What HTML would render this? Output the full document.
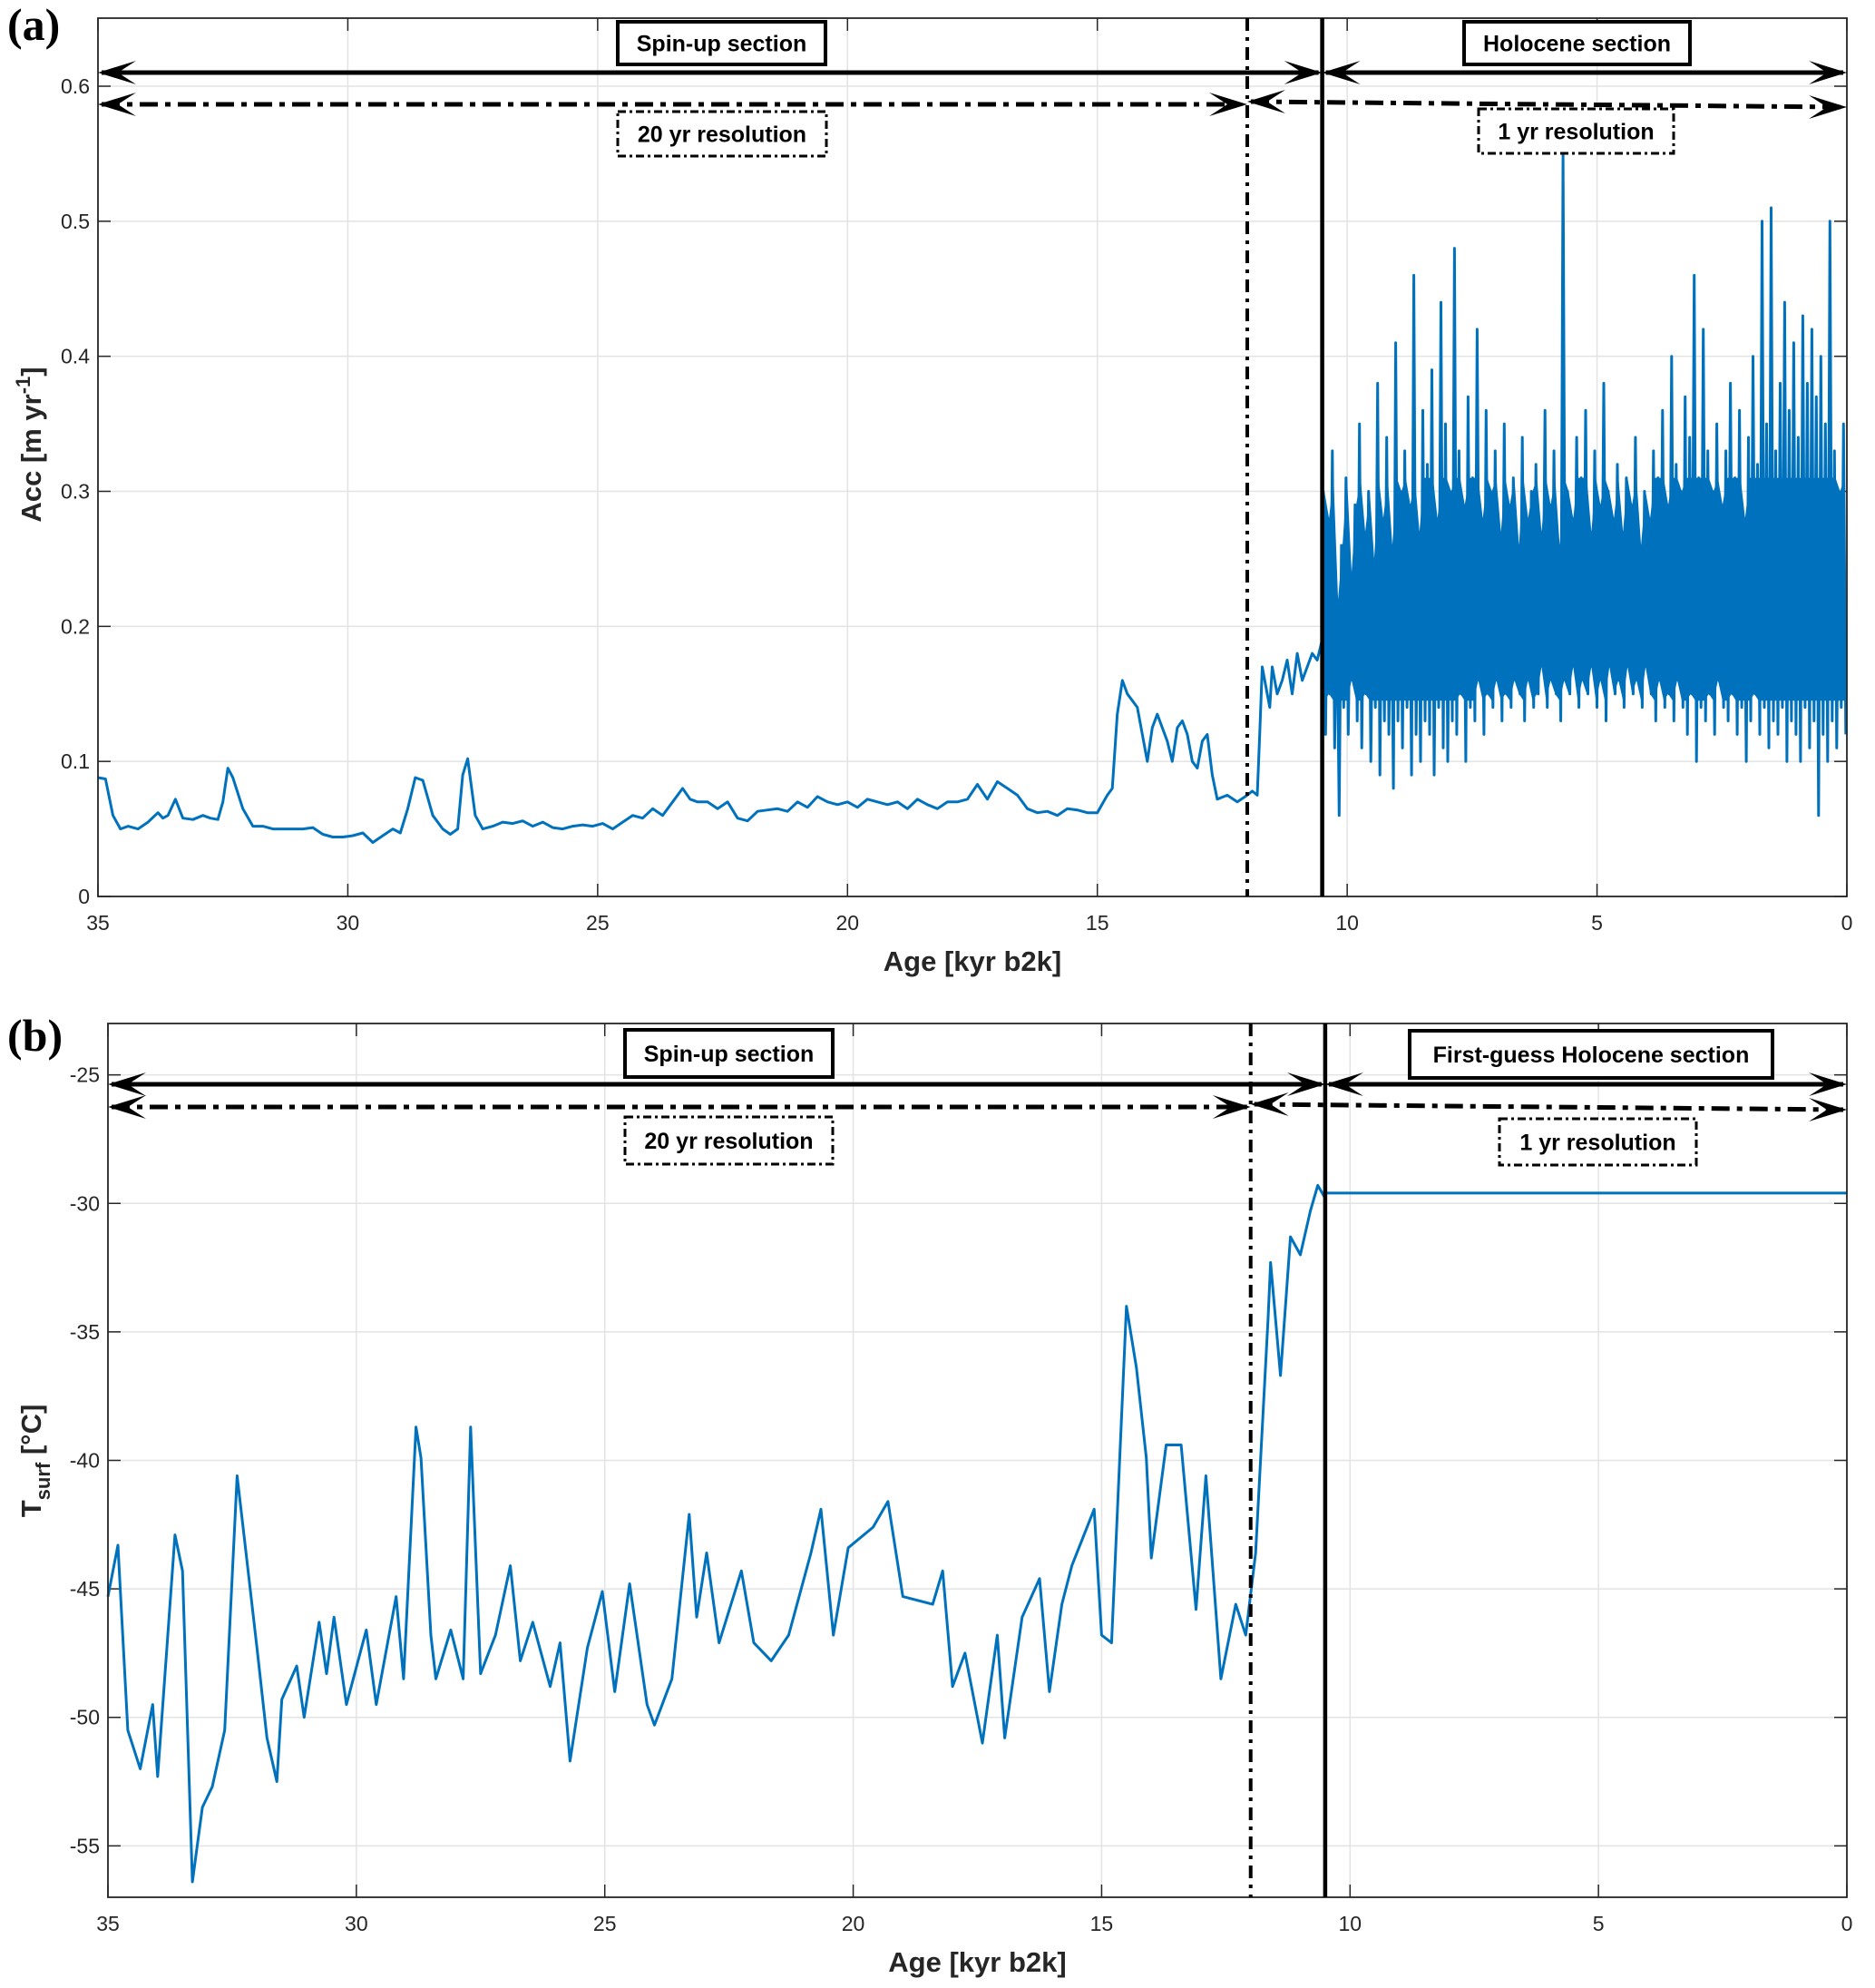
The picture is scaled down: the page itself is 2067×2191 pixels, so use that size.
<!DOCTYPE html>
<html><head><meta charset="utf-8"><style>
body{margin:0;background:#fff}
svg{display:block}
</style></head><body>
<svg id="c" width="2067" height="2191" xmlns="http://www.w3.org/2000/svg" font-family="Liberation Sans, sans-serif"></svg>
<script>
// ---------- DATA ----------
const accAge=[35,34.85,34.7,34.55,34.4,34.2,34.0,33.8,33.7,33.6,33.45,33.3,33.1,32.9,32.75,32.6,32.5,32.4,32.3,32.1,31.9,31.7,31.5,31.3,31.1,30.9,30.7,30.5,30.3,30.1,29.9,29.7,29.5,29.3,29.1,28.95,28.8,28.65,28.5,28.3,28.1,27.95,27.8,27.7,27.6,27.45,27.3,27.1,26.9,26.7,26.5,26.3,26.1,25.9,25.7,25.5,25.3,25.1,24.9,24.7,24.5,24.3,24.1,23.9,23.7,23.5,23.3,23.15,23.0,22.8,22.6,22.4,22.2,22.0,21.8,21.6,21.4,21.2,21.0,20.8,20.6,20.4,20.2,20.0,19.8,19.6,19.4,19.2,19.0,18.8,18.6,18.4,18.2,18.0,17.8,17.6,17.4,17.2,17.0,16.8,16.6,16.4,16.2,16.0,15.8,15.6,15.4,15.2,15.0,14.8,14.7,14.6,14.5,14.4,14.3,14.2,14.1,14.0,13.9,13.8,13.7,13.6,13.5,13.4,13.3,13.2,13.1,13.0,12.9,12.8,12.7,12.6,12.4,12.2,12.0,11.9,11.8,11.75,11.7,11.6,11.55,11.5,11.4,11.3,11.2,11.1,11.0,10.9,10.8,10.7,10.6,10.5];
const accVal=[0.088,0.087,0.06,0.05,0.052,0.05,0.055,0.062,0.058,0.06,0.072,0.058,0.057,0.06,0.058,0.057,0.07,0.095,0.088,0.065,0.052,0.052,0.05,0.05,0.05,0.05,0.051,0.046,0.044,0.044,0.045,0.047,0.04,0.045,0.05,0.047,0.065,0.088,0.086,0.06,0.05,0.046,0.05,0.09,0.102,0.06,0.05,0.052,0.055,0.054,0.056,0.052,0.055,0.051,0.05,0.052,0.053,0.052,0.054,0.05,0.055,0.06,0.058,0.065,0.06,0.07,0.08,0.072,0.07,0.07,0.065,0.07,0.058,0.056,0.063,0.064,0.065,0.063,0.07,0.066,0.074,0.07,0.068,0.07,0.066,0.072,0.07,0.068,0.07,0.065,0.072,0.068,0.065,0.07,0.07,0.072,0.083,0.072,0.085,0.08,0.075,0.065,0.062,0.063,0.06,0.065,0.064,0.062,0.062,0.075,0.08,0.135,0.16,0.15,0.145,0.14,0.12,0.1,0.125,0.135,0.125,0.115,0.1,0.125,0.13,0.12,0.1,0.095,0.115,0.12,0.09,0.072,0.075,0.07,0.075,0.078,0.075,0.12,0.17,0.15,0.14,0.17,0.15,0.16,0.175,0.15,0.18,0.16,0.17,0.18,0.175,0.19,0.2];
const holoHigh=[0.30,0.28,0.33,0.22,0.26,0.31,0.24,0.29,0.35,0.27,0.30,0.25,0.38,0.28,0.34,0.26,0.41,0.30,0.33,0.29,0.46,0.27,0.36,0.32,0.39,0.28,0.44,0.35,0.30,0.48,0.33,0.29,0.37,0.31,0.42,0.28,0.36,0.30,0.33,0.27,0.35,0.29,0.31,0.26,0.34,0.28,0.30,0.32,0.27,0.36,0.29,0.33,0.26,0.55,0.30,0.28,0.34,0.31,0.36,0.27,0.33,0.29,0.38,0.30,0.28,0.32,0.27,0.31,0.29,0.34,0.26,0.30,0.28,0.33,0.31,0.36,0.29,0.40,0.32,0.30,0.37,0.34,0.46,0.31,0.42,0.33,0.30,0.35,0.29,0.33,0.38,0.31,0.36,0.28,0.34,0.40,0.32,0.50,0.35,0.51,0.33,0.38,0.44,0.36,0.41,0.34,0.43,0.38,0.42,0.37,0.40,0.35,0.50,0.33,0.30,0.35];
const holoLow=[0.12,0.15,0.11,0.06,0.14,0.12,0.16,0.13,0.11,0.15,0.10,0.14,0.09,0.13,0.12,0.08,0.13,0.11,0.14,0.09,0.12,0.10,0.13,0.12,0.09,0.14,0.11,0.10,0.13,0.12,0.15,0.10,0.14,0.13,0.16,0.12,0.15,0.14,0.16,0.13,0.15,0.14,0.16,0.15,0.13,0.16,0.14,0.15,0.17,0.14,0.16,0.15,0.13,0.16,0.15,0.17,0.14,0.16,0.15,0.17,0.14,0.16,0.13,0.17,0.15,0.16,0.14,0.17,0.15,0.16,0.14,0.17,0.15,0.13,0.16,0.14,0.15,0.13,0.16,0.14,0.12,0.15,0.10,0.14,0.13,0.15,0.12,0.16,0.14,0.13,0.15,0.12,0.14,0.10,0.13,0.15,0.12,0.14,0.11,0.13,0.12,0.14,0.10,0.13,0.12,0.10,0.14,0.11,0.13,0.06,0.12,0.10,0.13,0.11,0.14,0.12];
const tAge=[35,34.8,34.6,34.35,34.1,34.0,33.65,33.5,33.3,33.1,32.9,32.65,32.4,32.25,32.0,31.8,31.6,31.5,31.2,31.05,30.75,30.6,30.45,30.2,29.8,29.6,29.2,29.05,28.8,28.7,28.5,28.4,28.1,27.85,27.7,27.5,27.2,26.9,26.7,26.45,26.1,25.9,25.7,25.35,25.05,24.8,24.5,24.15,24.0,23.65,23.3,23.15,22.95,22.7,22.25,22.0,21.65,21.3,20.85,20.65,20.4,20.1,19.6,19.3,19.0,18.4,18.2,18.0,17.75,17.4,17.1,16.95,16.6,16.25,16.05,15.8,15.6,15.15,15.0,14.8,14.5,14.3,14.1,14.0,13.7,13.4,13.1,12.9,12.6,12.3,12.1,11.9,11.65,11.6,11.4,11.2,11.0,10.8,10.65,10.5];
const tVal=[-45.3,-43.3,-50.5,-52,-49.5,-52.3,-42.9,-44.3,-56.4,-53.5,-52.7,-50.5,-40.6,-43.1,-47.3,-50.8,-52.5,-49.3,-48.0,-50,-46.3,-48.3,-46.1,-49.5,-46.6,-49.5,-45.3,-48.5,-38.7,-39.9,-46.8,-48.5,-46.6,-48.5,-38.7,-48.3,-46.8,-44.1,-47.8,-46.3,-48.8,-47.1,-51.7,-47.3,-45.1,-49,-44.8,-49.5,-50.3,-48.5,-42.1,-46.1,-43.6,-47.1,-44.3,-47.1,-47.8,-46.8,-43.6,-41.9,-46.8,-43.4,-42.6,-41.6,-45.3,-45.6,-44.3,-48.8,-47.5,-51,-46.8,-50.8,-46.1,-44.6,-49,-45.6,-44.1,-41.9,-46.8,-47.1,-34,-36.4,-39.9,-43.8,-39.4,-39.4,-45.8,-40.6,-48.5,-45.6,-46.8,-43.6,-34.5,-32.3,-36.7,-31.3,-32,-30.3,-29.3,-29.8];
const tHolocene=-29.6;
const xTicks=[35,30,25,20,15,10,5,0];
const accTicks=[0,0.1,0.2,0.3,0.4,0.5,0.6];
const tTicks=[-55,-50,-45,-40,-35,-30,-25];
const spinEnd=12, holoStart=10.5;

// ---------- DRAW ----------
const NS="http://www.w3.org/2000/svg";
const svg=document.getElementById('c');
function el(t,a,p){const e=document.createElementNS(NS,t);for(const k in a)e.setAttribute(k,a[k]);(p||svg).appendChild(e);return e;}

function panel(P){
  const g=el('g',{});
  
  
  const X=a=>P.L+(P.x0-a)/(P.x0-0)*(P.R-P.L);
  const Y=v=>P.B-(v-P.y0)/(P.y1-P.y0)*(P.B-P.T);
  for(const t of xTicks){const x=X(t);const l=el('line',{x1:x,x2:x,y1:P.T,y2:P.B,stroke:'#e3e3e3','stroke-width':1.5},g);}
  for(const t of P.yt){const y=Y(t);const l=el('line',{x1:P.L,x2:P.R,y1:y,y2:y,stroke:'#e3e3e3','stroke-width':1.5},g);}
  for(const t of xTicks){const x=X(t);
    el('line',{x1:x,x2:x,y1:P.B,y2:P.B-14,stroke:'#262626','stroke-width':1.5},g);
    el('line',{x1:x,x2:x,y1:P.T,y2:P.T+14,stroke:'#262626','stroke-width':1.5},g);
    const tx=el('text',{x:x,y:P.B+37,'text-anchor':'middle','font-size':23,fill:'#262626'},g);tx.textContent=t;
    }
  for(const t of P.yt){const y=Y(t);
    el('line',{x1:P.L,x2:P.L+14,y1:y,y2:y,stroke:'#262626','stroke-width':1.5},g);
    el('line',{x1:P.R,x2:P.R-14,y1:y,y2:y,stroke:'#262626','stroke-width':1.5},g);
    const tx=el('text',{x:P.L-9,y:y+8,'text-anchor':'end','font-size':23,fill:'#262626'},g);tx.textContent=t;
    }
  P.draw(X,Y,g);
  const fr=el('rect',{x:P.L,y:P.T,width:P.R-P.L,height:P.B-P.T,fill:'none',stroke:'#262626','stroke-width':1.8},g);
  
  const v1=el('line',{x1:X(spinEnd),x2:X(spinEnd),y1:P.T,y2:P.B,stroke:'#000','stroke-width':4,'stroke-dasharray':'14,7,4,7'},g);
  
  const v2=el('line',{x1:X(holoStart),x2:X(holoStart),y1:P.T,y2:P.B,stroke:'#000','stroke-width':4.5},g);
  
  function arrow(x1,x2,y1,y2,dash,name){
    const a=el('line',{x1:x1+4,x2:x2-4,y1:y1,y2:y2,stroke:'#000','stroke-width':5,'stroke-dasharray':dash?'20,8,6,8':'none'},g);
    
    el('path',{d:`M${x1+42},${y1-13} L${x1},${y1} L${x1+42},${y1+13} L${x1+22},${y1} Z`,fill:'#000'},g);
    el('path',{d:`M${x2-42},${y2-13} L${x2},${y2} L${x2-42},${y2+13} L${x2-22},${y2} Z`,fill:'#000'},g);
  }
  arrow(P.L,X(holoStart),P.a1,P.a1,false,'spin-up-arrow');
  arrow(X(holoStart),P.R,P.a1,P.a1,false,'holocene-arrow');
  arrow(P.L,X(spinEnd),P.a2,P.a2,true,'20yr-arrow');
  arrow(X(spinEnd),P.R,P.a2-3,P.a2+3,true,'1yr-arrow');
  for(const b of P.boxes){
    const r=el('rect',{x:b[0],y:b[1],width:b[2],height:b[3],fill:'#fff',stroke:'#000','stroke-width':b[5]?3:4,'stroke-dasharray':b[5]?'9,4,3,4':'none'},g);
    
    const t=el('text',{x:b[0]+b[2]/2,y:b[1]+b[3]/2+9,'text-anchor':'middle','font-size':25,'font-weight':'bold',fill:'#000'},g);t.textContent=b[4];
    
  }
  const xl=el('text',{x:(P.L+P.R)/2,y:P.B+82,'text-anchor':'middle','font-size':31,'font-weight':'bold',fill:'#262626'},g);xl.textContent='Age [kyr b2k]';
  
}

panel({name:'panel-a-accumulation',L:108,R:2036,T:20,B:988,x0:35,y0:0,y1:0.6504,yt:accTicks,a1:80,a2:115,
 boxes:[[681,24,229,47,'Spin-up section',false,'spin-up'],[681,123,230,49,'20 yr resolution',true,'20yr-resolution'],[1614,24,249,47,'Holocene section',false,'holocene'],[1630,120,215,49,'1 yr resolution',true,'1yr-resolution']],
 draw:(X,Y,g)=>{
  let d='';accAge.forEach((a,i)=>{d+=(i?'L':'M')+X(a).toFixed(1)+','+Y(accVal[i]).toFixed(1);});
  const n=holoHigh.length;
  for(let i=0;i<n;i++){const a=holoStart-(i+0.25)/n*holoStart, b=holoStart-(i+0.75)/n*holoStart;
    d+='L'+X(a).toFixed(1)+','+Y(holoHigh[i]).toFixed(1)+'L'+X(b).toFixed(1)+','+Y(holoLow[i]).toFixed(1);}
  const p=el('path',{d:d,fill:'none',stroke:'#0072BD','stroke-width':3,'stroke-linejoin':'round'},g);
  
  const q=[];for(let i=0;i<n;i++){q.push([X(holoStart-(i+0.5)/n*holoStart),Y(Math.min(holoHigh[i],0.31)),Y(Math.max(holoLow[i],0.145))]);}
  let d2='M'+q.map(v=>v[0].toFixed(1)+','+v[1].toFixed(1)).join('L')+'L'+q.slice().reverse().map(v=>v[0].toFixed(1)+','+v[2].toFixed(1)).join('L')+'Z';
  const band=el('path',{d:d2,fill:'#0072BD'},g);
  
 }});

panel({name:'panel-b-temperature',L:119,R:2036,T:1128,B:2091,x0:35,y0:-57,y1:-23,yt:tTicks,a1:1195,a2:1220,
 boxes:[[689,1135,229,52,'Spin-up section',false,'spin-up'],[689,1231,229,52,'20 yr resolution',true,'20yr-resolution'],[1554,1136,400,52,'First-guess Holocene section',false,'first-guess-holocene'],[1653,1233,217,51,'1 yr resolution',true,'1yr-resolution']],
 draw:(X,Y,g)=>{
  let d='';tAge.forEach((a,i)=>{d+=(i?'L':'M')+X(a).toFixed(1)+','+Y(tVal[i]).toFixed(1);});
  d+='L'+X(holoStart)+','+Y(tHolocene)+'L'+X(0)+','+Y(tHolocene);
  const p=el('path',{d:d,fill:'none',stroke:'#0072BD','stroke-width':3,'stroke-linejoin':'round'},g);
  
 }});

let t=el('text',{x:8,y:44,style:'font-family:"Liberation Serif",serif','font-size':50,'font-weight':'bold'});t.textContent='(a)';

t=el('text',{x:8,y:1158,style:'font-family:"Liberation Serif",serif','font-size':50,'font-weight':'bold'});t.textContent='(b)';

t=el('text',{x:0,y:0,transform:'translate(45,490) rotate(-90)','text-anchor':'middle','font-size':31,'font-weight':'bold',fill:'#262626'});
t.innerHTML='Acc [m yr<tspan dy="-12" font-size="22">-1</tspan><tspan dy="12">]</tspan>';

t=el('text',{x:0,y:0,transform:'translate(45,1610) rotate(-90)','text-anchor':'middle','font-size':31,'font-weight':'bold',fill:'#262626'});
t.innerHTML='T<tspan dy="10" font-size="22">surf</tspan><tspan dy="-10"> [°C]</tspan>';

</script>
</body></html>
